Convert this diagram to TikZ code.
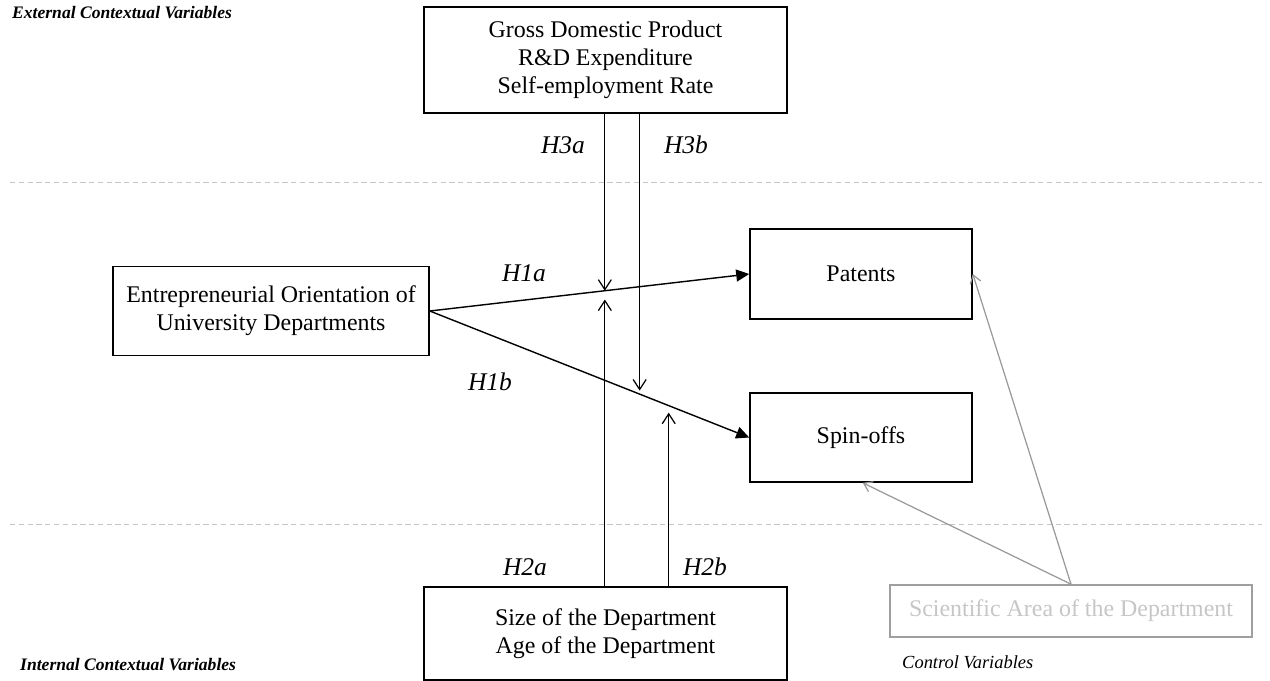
\documentclass[tikz,border=0pt]{standalone}
\usepackage{fontspec}
\setmainfont{Liberation Serif}
\usepackage{tikz}
\usetikzlibrary{arrows.meta, positioning, calc}

\tikzset{
  varbox/.style={draw, line width=0.9pt, align=center, inner sep=2pt,
    font=\fontsize{13.6}{16}\selectfont},
  ctrlbox/.style={varbox, draw=gray!75, text=gray!45},
  hyplabel/.style={font=\fontsize{14.5}{16}\selectfont\itshape},
  mainarr/.style={line width=0.8pt, -{Triangle[length=2.6mm,width=2.4mm]}},
  modarr/.style={line width=0.7pt, -{Straight Barb[length=2mm,width=2.6mm]}},
  ctrlarr/.style={gray!80, line width=0.7pt, -{Straight Barb[length=1.6mm,width=2.2mm]}},
  layer/.style={gray!45, dash pattern=on 3pt off 2pt, line width=0.5pt},
  cornerlabel/.style={anchor=west, font=\fontsize{10}{12}\selectfont\bfseries\itshape}
}

\begin{document}
\begin{tikzpicture}[x=0.2mm, y=-0.2mm]
			\useasboundingbox (0,0) rectangle (1270,680);
			
			% Ebenen
			\draw[layer] (10,182) -- (1262,182);
			\draw[layer] (10,524) -- (1262,524);
			\node[cornerlabel] (ext) at (6,13) {External Contextual Variables};
			\node[cornerlabel] (int) at (14,665) {Internal Contextual Variables};
			\node[anchor=west, font=\fontsize{10.5}{12}\selectfont\itshape] (ctrl) at (896,662) {Control Variables};
			
			% Kaesten
			\node[varbox, minimum width=7.26cm, minimum height=2.12cm] (gdp) at (605.5,60)
				{Gross Domestic Product\\R\&D Expenditure\\Self-employment Rate};
			\node[varbox, minimum width=6.32cm, minimum height=1.78cm] (eo) at (271,311)
				{Entrepreneurial Orientation of\\University Departments};
			\node[varbox, minimum width=4.44cm, minimum height=1.8cm] (pat) at (861,274) {Patents};
			\node[varbox, minimum width=4.44cm, minimum height=1.78cm] (spin) at (861,437.5) {Spin-offs};
			\node[varbox, minimum width=7.26cm, minimum height=1.86cm] (age) at (605.5,633.5)
				{Size of the Department\\Age of the Department};
			\node[ctrlbox, minimum width=7.24cm, minimum height=1.04cm] (sci) at (1071,611)
				{Scientific Area of the Department};
			
			% Haupteffekte
			\draw[mainarr] (eo.east) -- (pat.west);
			\draw[mainarr] (eo.east) -- (spin.west);
			\coordinate (c1) at ($(eo.east)!0.548!(pat.west)$);
			\coordinate (c2) at ($(eo.east)!0.657!(spin.west)$);
			\coordinate (c3) at ($(eo.east)!0.748!(spin.west)$);
			
			% Moderatoren
			\draw[modarr] (gdp.south -| c1) -- (c1);
			\draw[modarr] (gdp.south -| c2) -- ([yshift=2pt]c2);
			\draw[modarr] (age.north -| c1) -- ([yshift=-5pt]c1);
			\draw[modarr] (age.north -| c3) -- ([yshift=-4pt]c3);
			
			% Kontrollvariablen
			\draw[ctrlarr] (sci.north) -- (pat.east);
			\draw[ctrlarr] (sci.north) -- ([xshift=1pt]spin.south);
			
			% Hypothesen
			\node[hyplabel] (h1a) at (524,273) {H1a};
			\node[hyplabel] (h1b) at (490,382) {H1b};
			\node[hyplabel] (h3a) at (563,145) {H3a};
			\node[hyplabel] (h3b) at (686,145) {H3b};
			\node[hyplabel] (h2a) at (525,567) {H2a};
			\node[hyplabel] (h2b) at (705,567) {H2b};
		\end{tikzpicture}
\end{document}
